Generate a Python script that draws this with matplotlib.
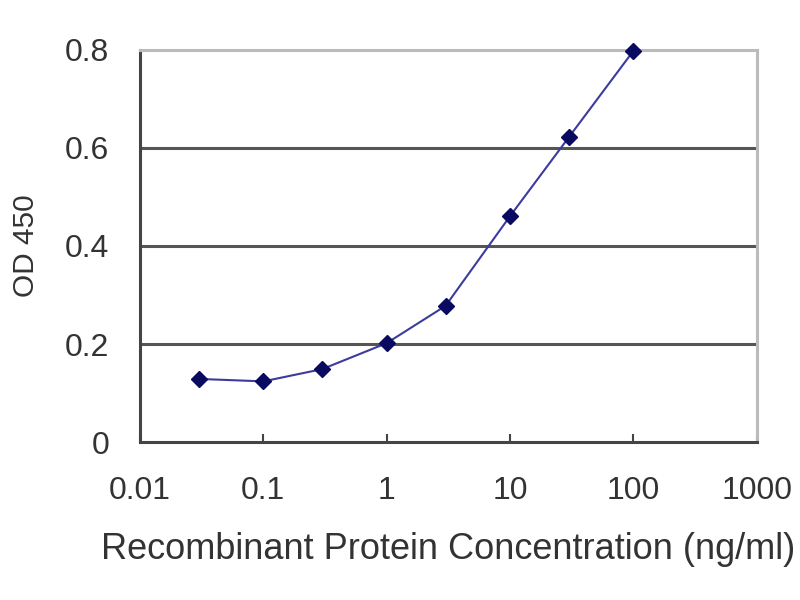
import matplotlib
matplotlib.use('Agg')
import matplotlib.pyplot as plt

# recombinant protein concentration (ng/ml) and OD 450 readings
conc = [0.03, 0.1, 0.3, 1, 3, 10, 30, 100]
od450 = [0.129, 0.124, 0.149, 0.202, 0.278, 0.461, 0.622, 0.798]

xticks = [0.01, 0.1, 1, 10, 100, 1000]
xtick_labels = ['0.01', '0.1', '1', '10', '100', '1000']
yticks = [0, 0.2, 0.4, 0.6, 0.8]
ytick_labels = ['0', '0.2', '0.4', '0.6', '0.8']

plt.rcParams['font.family'] = ['Liberation Sans', 'DejaVu Sans']

fig = plt.figure(figsize=(8, 6), dpi=100)
ax = fig.add_axes([0.175, 0.263, 0.771, 0.654])

for y in yticks[1:4]:
    ax.axhline(y, color='#555555', lw=2.2, zorder=1)
ax.axhline(0.8, color='#bbbbbb', lw=2.2, zorder=1)

ax.plot(conc, od450, color='#3c3c9c', lw=1.5, marker='D', markersize=8.5,
        markerfacecolor='#0a0a60', markeredgecolor='#0a0a60', zorder=3, clip_on=False)

ax.set_xscale('log')
ax.set_xlim(0.01, 1000)
ax.set_ylim(0, 0.8)
ax.set_xticks(xticks)
ax.set_xticklabels(xtick_labels)
ax.minorticks_off()
ax.set_yticks(yticks)
ax.set_yticklabels(ytick_labels)

ax.tick_params(axis='x', direction='in', length=6, width=1.5, color='#444444',
               labelsize=23, labelcolor='#333333', pad=24)
ax.tick_params(axis='y', length=0, labelsize=23, labelcolor='#333333', pad=22)

for side in ['left', 'bottom']:
    ax.spines[side].set_color('#444444')
    ax.spines[side].set_linewidth(2.2)
for side in ['top', 'right']:
    ax.spines[side].set_color('#bbbbbb')
    ax.spines[side].set_linewidth(2.2)

ax.set_xlabel('Recombinant Protein Concentration (ng/ml)', fontsize=26,
              color='#333333', labelpad=19)
ax.set_ylabel('OD 450', fontsize=21.5, color='#333333', labelpad=18)

fig.savefig('out.png', dpi=100, facecolor='white')
